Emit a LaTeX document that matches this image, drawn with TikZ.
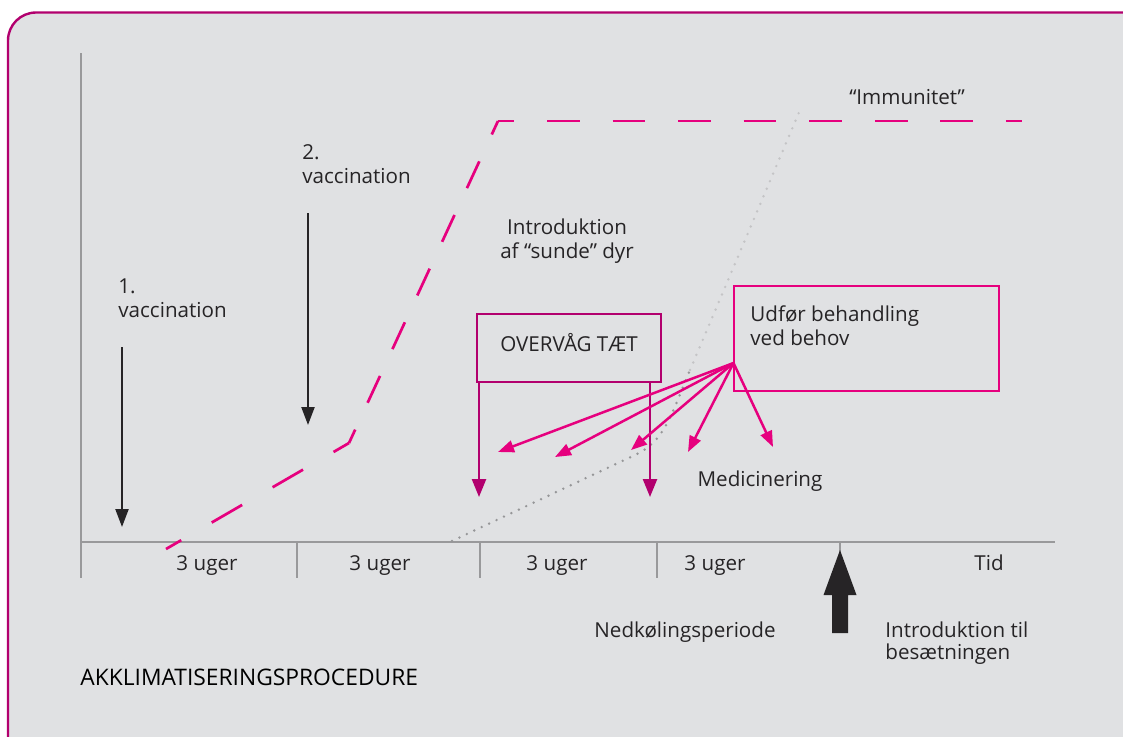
\documentclass[tikz,border=0pt]{standalone}
\usepackage{fontspec}
\setmainfont{Open Sans}
\usetikzlibrary{arrows.meta,positioning,calc}
\definecolor{cMag}{RGB}{178,  0,110}
\definecolor{cPink}{RGB}{230,  0,126}
\definecolor{cPanel}{RGB}{224,225,227}
\definecolor{cAxis}{RGB}{153,153,155}
\definecolor{cDotD}{RGB}{150,150,152}
\definecolor{cDotL}{RGB}{196,196,198}
\definecolor{cInk}{RGB}{ 38, 36, 38}
\tikzset{
  txt/.style  ={font=\fontsize{10.3}{12}\selectfont,text=cInk,inner sep=0pt},
  lbl/.style  ={txt,align=left},
  ctr/.style  ={txt,align=center},
  ax/.style   ={draw=cAxis,line width=1.25pt},
  vac/.style  ={-{Triangle[length=9pt,width=6.5pt]},draw=cInk,line width=1.1pt},
  mon/.style  ={-{Triangle[length=9pt,width=7pt]},draw=cMag,line width=1.2pt},
  med/.style  ={-{Triangle[length=8pt,width=6pt]},draw=cPink,line width=1.25pt},
  imm/.style  ={draw=cPink,line width=1.35pt},
  bx/.style   ={draw=cMag,line width=1.2pt,inner sep=0pt},
  dots/.style ={line width=1.35pt,line cap=round,dash pattern=on 0pt off 4.1pt},
}
\begin{document}
\begin{tikzpicture}[x=0.5pt,y=-0.5pt]
% pixel grid of the reference: x right, y down, 1123 x 736
\useasboundingbox (0,0) rectangle (1123,736);

%% ================= panel and axes =======================================
\fill[white] (0,0) rectangle (1123,736);
\draw[draw=cMag,fill=cPanel,line width=1.2pt,rounded corners=14pt] (8,12.5) rectangle (1160,770);

\draw[ax] (81,53) -- (81,578);
\draw[ax] (81,542) -- (1055,542);
\foreach \x in {297,480,657,840}
  \draw[ax] (\x,542) -- (\x,578);

\foreach \x in {207,380,557,715}
  \node[txt,anchor=base] (uge\x) at (\x,570) {3 uger};
\node[txt,anchor=base] (tid) at (989,570) {Tid};

%% ================= immunity curves ======================================
% each leg gets its own dash length so a dash sits on every corner
\coordinate (i0) at (166,549);
\coordinate (i1) at (349,443);
\coordinate (i2) at (498,121);
\coordinate (i3) at (1022,121);
\draw[imm,dash pattern=on 17.6pt off 17.6pt,dash phase=8.8pt]   (i0) -- (i1);
\draw[imm,dash pattern=on 14.78pt off 14.78pt,dash phase=7.39pt] (i1) -- (i2);
\draw[imm,dash pattern=on 16.38pt off 16.38pt,dash phase=8.19pt] (i2) -- (i3);

\draw[dots,draw=cDotD] (452,541) -- (635,455) .. controls (665,441) and (671,415) .. (690,370);
\draw[dots,draw=cDotL] (690,370) -- (800,110);

\node[ctr,anchor=base] (immu) at (907,104) {“Immunitet”};

%% ================= vaccinations =========================================
% multi-line nodes: base is the baseline of the last line
\node[lbl,anchor=base west] (vac1) at (118,317) {1.\\vaccination};
\node[lbl,anchor=base west] (vac2) at (302,183) {2.\\vaccination};
\coordinate (v1s) at (122,347);
\coordinate (v1e) at (122,527);
\coordinate (v2s) at (308,213);
\coordinate (v2e) at (308,425);
\draw[vac] (v1s) -- (v1e);
\draw[vac] (v2s) -- (v2e);

\node[ctr,anchor=base] (intro) at (567,258) {Introduktion\\af “sunde” dyr};

%% ================= monitoring and treatment =============================
\node[bx,txt,minimum width=92pt,minimum height=34pt,text height=7.35pt,text depth=4.35pt]
  (ov) at (569,348) {OVERVÅG TÆT};
\coordinate (ovl) at (479,497);
\coordinate (ovr) at (650,497);
\draw[mon] (ov.south -| ovl) -- (ovl);
\draw[mon] (ov.south -| ovr) -- (ovr);

\node[bx,draw=cPink,minimum width=132.5pt,minimum height=52.5pt] (beh) at (866.5,338.5) {};
\node[lbl,anchor=base west] (behtxt) at (750,345) {Udfør behandling\\ved behov};

\coordinate (fan) at (733.5,363);
\foreach \n/\x/\y in {1/498/452, 2/555/457, 3/631/450, 4/688/452, 5/773/447}{
  \coordinate (m\n) at (\x,\y);
  \draw[med] (fan) -- (m\n);}

\node[txt,anchor=base] (medi) at (760,486) {Medicinering};

%% ================= introduction to the herd =============================
\fill[cInk] (840,550) -- (856.5,595) -- (848,595) -- (848,633) -- (832,633)
  -- (832,595) -- (823.5,595) -- cycle;
\node[txt,anchor=base] (ned) at (685,637) {Nedkølingsperiode};
\node[lbl,anchor=base west,font=\fontsize{10.3}{11}\selectfont] (besa) at (885,659)
  {Introduktion til\\besætningen};

\node[txt,anchor=base west,font=\fontsize{11.4}{13}\selectfont,text=black] (titel) at (80,685)
  {AKKLIMATISERINGSPROCEDURE};

\end{tikzpicture}
\end{document}
